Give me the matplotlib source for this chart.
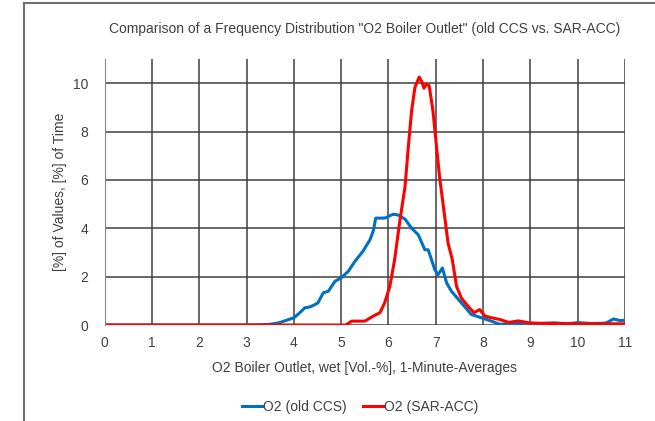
"""
Frequency distribution of O2 at boiler outlet: old CCS vs. SAR-ACC.
"""
import matplotlib.pyplot as plt
from matplotlib.lines import Line2D

plt.rcParams['font.family'] = ['Liberation Sans', 'DejaVu Sans']

# O2 (old CCS)
ccs_x = [0, 3.0, 3.3, 3.5, 3.7, 3.85, 4.0, 4.12, 4.23, 4.34, 4.45, 4.51, 4.62,
         4.73, 4.87, 5.0, 5.15, 5.29, 5.46, 5.61, 5.68, 5.73, 5.92, 6.1, 6.2,
         6.35, 6.49, 6.63, 6.77, 6.84, 6.98, 7.05, 7.14, 7.23, 7.33, 7.54,
         7.75, 7.96, 8.18, 8.35, 8.6, 8.9, 9.2, 9.5, 9.8, 10.0, 10.3, 10.6,
         10.76, 10.9, 11.0]
ccs_y = [0, 0, 0.01, 0.03, 0.1, 0.2, 0.3, 0.5, 0.71, 0.75, 0.85, 0.92, 1.33,
         1.40, 1.81, 1.95, 2.22, 2.63, 3.05, 3.53, 3.9, 4.42, 4.42, 4.58, 4.55,
         4.38, 4.0, 3.73, 3.11, 3.11, 2.29, 2.08, 2.36, 1.74, 1.40, 0.92,
         0.44, 0.30, 0.16, 0.03, 0.05, 0.08, 0.06, 0.09, 0.05, 0.1, 0.06, 0.08,
         0.25, 0.18, 0.2]

# O2 (SAR-ACC)
acc_x = [0, 5.1, 5.22, 5.5, 5.68, 5.82, 5.92, 6.03, 6.13, 6.24, 6.35, 6.42,
         6.49, 6.56, 6.65, 6.71, 6.75, 6.8, 6.86, 6.94, 7.01, 7.08, 7.18, 7.26,
         7.35, 7.44, 7.54, 7.68, 7.81, 7.93, 8.04, 8.18, 8.35, 8.54, 8.75, 9.0,
         9.5, 10.0, 10.5, 11.0]
acc_y = [0, 0, 0.16, 0.16, 0.37, 0.51, 0.92, 1.6, 2.7, 4.3, 5.72, 7.37,
         8.87, 9.83, 10.25, 10.04, 9.79, 9.95, 9.9, 8.87, 7.5, 6.13, 4.62, 3.39,
         2.7, 1.6, 1.12, 0.78, 0.51, 0.64, 0.37, 0.3, 0.23, 0.11, 0.17, 0.08,
         0.06, 0.05, 0.05, 0.05]

x_ticks = list(range(0, 12))
y_ticks = [0, 2, 4, 6, 8, 10]

txt = '#404040'

fig = plt.figure(figsize=(6.55, 4.21), dpi=100)
ax = fig.add_axes([0.160, 0.228, 0.794, 0.632])

ax.plot(ccs_x, ccs_y, color='#0070C0', lw=2.2, label='O2 (old CCS)')
ax.plot(acc_x, acc_y, color='#FF0000', lw=2.2, label='O2 (SAR-ACC)')

ax.set_xlim(0, 11)
ax.set_ylim(0, 11)
ax.set_xticks(x_ticks)
ax.set_yticks(y_ticks)
ax.tick_params(length=0, labelsize=10, labelcolor=txt)
ax.tick_params(axis='x', pad=8)
ax.tick_params(axis='y', pad=12)
ax.grid(True, color='#404040', lw=1.1)
ax.set_axisbelow(True)
for s in ['top', 'right', 'bottom']:
    ax.spines[s].set_visible(False)
ax.spines['left'].set_color('#888888')

ax.set_title('Comparison of a Frequency Distribution "O2 Boiler Outlet" (old CCS vs. SAR-ACC)',
             fontsize=10, color=txt, pad=19)
ax.set_xlabel('O2 Boiler Outlet, wet [Vol.-%], 1-Minute-Averages', fontsize=10,
              color=txt, labelpad=8)
ax.set_ylabel('[%] of Values, [%] of Time', fontsize=10, color=txt, labelpad=4)

fig.legend(loc='center', bbox_to_anchor=(0.55, 0.034), ncol=2, frameon=False,
           fontsize=10, labelcolor=txt, handlelength=1.4, handletextpad=0.1,
           columnspacing=1.2)

# outer frame
fig.add_artist(Line2D([24 / 655, 24 / 655], [0, 1 - 3 / 421], color='#707070',
                      lw=1.5, transform=fig.transFigure))
fig.add_artist(Line2D([24 / 655, 1], [1 - 3 / 421, 1 - 3 / 421], color='#707070',
                      lw=1.5, transform=fig.transFigure))

fig.savefig('out.png', dpi=100)
